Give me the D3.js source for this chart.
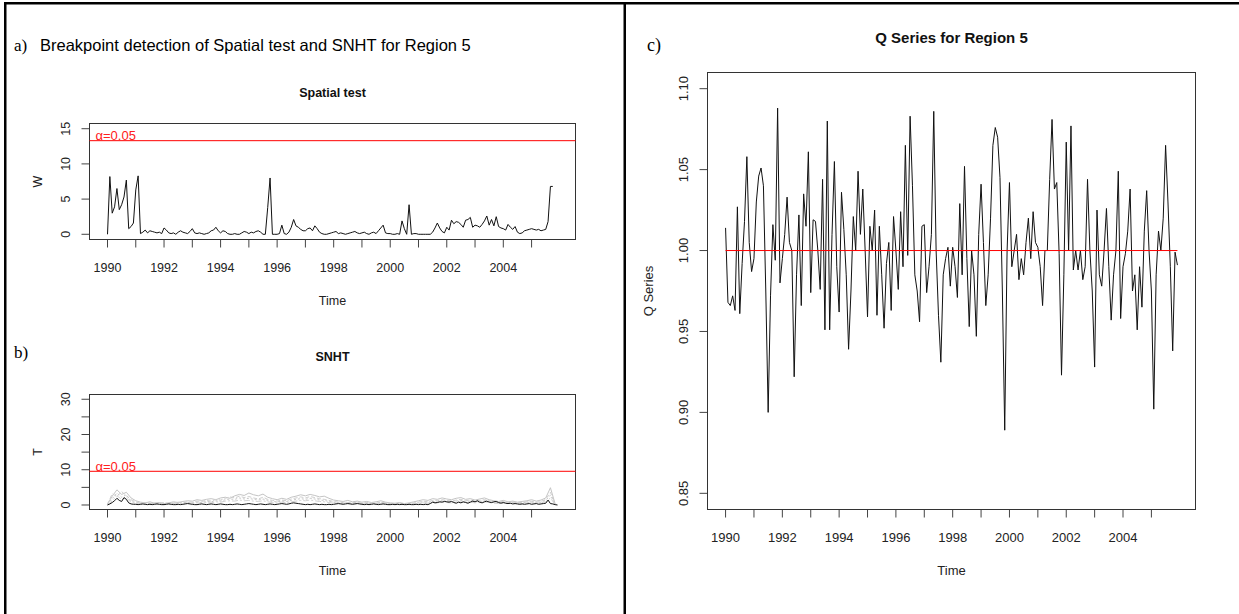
<!DOCTYPE html>
<html>
<head>
<meta charset="utf-8">
<script src="https://cdn.jsdelivr.net/npm/d3@7"></script>
<style>
  html, body { margin: 0; padding: 0; background: #fff; }
  svg { display: block; }
  text { font-family: "Liberation Sans", Arial, Helvetica, sans-serif; }
</style>
</head>
<body>
<svg id="fig" width="1239" height="614"></svg>
<script>
// ---------- Monthly series, Jan 1990 onward ----------

// Spatial test statistic W (monthly)
const w1990 = [0.0, 8.2, 3.0, 3.9, 6.5, 3.5, 4.2, 5.3, 7.7, 0.8, 1.1, 1.6];
const w1991 = [6.3, 8.3, 0.1, 0.3, 0.6, 0.2, 0.5, 0.4, 0.3, 0.2, 0.3, 0.1];
const w1992 = [0.9, 0.6, 0.2, 0.1, 0.2, 0.0, 0.3, 0.5, 0.3, 0.2, 0.1, 0.4];
const w1993 = [0.8, 0.2, 0.1, 0.2, 0.1, 0.0, 0.1, 0.2, 0.5, 0.6, 1.0, 0.5];
const w1994 = [0.2, 0.5, 0.4, 0.1, 0.0, 0.0, 0.1, 0.0, 0.0, 0.2, 0.4, 0.3];
const w1995 = [0.1, 0.3, 0.2, 0.4, 0.5, 0.3, 0.0, 0.0, 3.8, 8.0, 0.0, 0.0];
const w1996 = [0.0, 0.1, 1.3, 0.1, 0.0, 0.3, 1.0, 2.1, 1.2, 1.0, 0.7, 0.5];
const w1997 = [0.5, 0.8, 0.9, 0.5, 1.2, 0.8, 0.3, 0.1, 0.0, 0.0, 0.1, 0.2];
const w1998 = [0.3, 0.4, 0.1, 0.2, 0.1, 0.0, 0.1, 0.2, 0.3, 0.4, 0.2, 0.1];
const w1999 = [0.2, 0.3, 0.1, 0.0, 0.2, 0.3, 0.1, 0.5, 0.9, 1.3, 0.2, 0.1];
const w2000 = [0.1, 0.0, 0.0, 0.1, 0.0, 1.9, 0.8, 0.0, 4.2, 0.0, 0.1, 0.1];
const w2001 = [0.0, 0.0, 0.0, 0.0, 0.0, 0.0, 0.3, 0.9, 1.6, 0.9, 0.4, 0.2];
const w2002 = [1.0, 0.6, 2.0, 1.5, 1.8, 1.7, 1.4, 1.0, 2.0, 2.1, 2.4, 1.0];
const w2003 = [1.3, 1.2, 1.0, 1.4, 1.9, 2.6, 1.3, 2.1, 1.2, 2.5, 1.1, 0.9];
const w2004 = [0.8, 0.6, 1.4, 1.0, 0.7, 1.1, 0.3, 0.1, 0.2, 0.5, 0.6, 0.7];
const w2005 = [0.8, 0.7, 0.6, 0.7, 0.5, 0.6, 0.7, 1.8, 6.8, 6.8];
const wThreshold = 13.3;

// SNHT statistic T for the region (monthly, black line)
const s1990 = [0.0, 0.3, 0.7, 1.2, 1.9, 1.3, 1.0, 2.1, 1.6, 0.6, 0.3, 0.2];
const s1991 = [0.2, 0.1, 0.2, 0.3, 0.2, 0.1, 0.2, 0.1, 0.2, 0.3, 0.2, 0.1];
const s1992 = [0.1, 0.2, 0.3, 0.2, 0.1, 0.1, 0.2, 0.1, 0.2, 0.3, 0.4, 0.3];
const s1993 = [0.2, 0.1, 0.1, 0.2, 0.3, 0.2, 0.1, 0.2, 0.3, 0.2, 0.1, 0.2];
const s1994 = [0.3, 0.2, 0.1, 0.1, 0.2, 0.1, 0.2, 0.3, 0.2, 0.1, 0.2, 0.3];
const s1995 = [0.4, 0.3, 0.2, 0.1, 0.2, 0.3, 0.2, 0.1, 0.2, 0.3, 0.2, 0.1];
const s1996 = [0.2, 0.3, 0.4, 0.3, 0.2, 0.3, 0.5, 0.6, 0.5, 0.4, 0.3, 0.2];
const s1997 = [0.1, 0.2, 0.1, 0.2, 0.3, 0.2, 0.1, 0.2, 0.1, 0.1, 0.2, 0.1];
const s1998 = [0.2, 0.3, 0.4, 0.3, 0.2, 0.3, 0.4, 0.3, 0.2, 0.3, 0.4, 0.3];
const s1999 = [0.2, 0.1, 0.2, 0.1, 0.2, 0.3, 0.2, 0.1, 0.2, 0.3, 0.2, 0.1];
const s2000 = [0.1, 0.2, 0.1, 0.2, 0.1, 0.2, 0.1, 0.1, 0.2, 0.1, 0.1, 0.2];
const s2001 = [0.1, 0.2, 0.1, 0.2, 0.1, 0.4, 0.8, 0.6, 0.7, 0.9, 0.8, 1.0];
const s2002 = [0.9, 0.8, 1.0, 0.7, 0.5, 0.8, 0.6, 0.9, 0.7, 0.5, 0.8, 1.1];
const s2003 = [0.9, 1.2, 0.8, 0.6, 0.9, 1.1, 0.8, 0.7, 0.9, 1.0, 0.7, 0.5];
const s2004 = [0.7, 0.5, 0.4, 0.5, 0.3, 0.4, 0.3, 0.2, 0.3, 0.2, 0.3, 0.4];
const s2005 = [0.2, 0.3, 0.4, 0.2, 0.3, 0.4, 0.5, 1.4, 0.4, 0.3, 0.1, 0.0];
const sThreshold = 9.56;

// SNHT statistics of the individual stations (every second month, grey lines)
const station1 = [
  0.3, 2.5, 4.3, 3.0, 3.6, 2.0,  1.2, 0.8, 0.6, 0.9, 0.5, 0.7,
  0.4, 0.6, 0.9, 0.7, 1.0, 1.2,  1.1, 1.5, 1.3, 1.6, 1.8, 1.5,
  2.0, 2.2, 1.9, 2.6, 3.0, 2.7,  3.4, 2.9, 2.6, 3.1, 2.2, 1.8,
  1.5, 1.9, 1.6, 2.2, 2.5, 2.9,  2.6, 3.0, 2.7, 2.3, 2.5, 1.9,
  1.4, 1.2, 1.0, 1.3, 0.9, 1.1,  0.8, 1.0, 0.7, 0.9, 1.2, 0.8,
  0.6, 0.5, 0.7, 0.4, 0.6, 0.9,  1.2, 1.5, 1.3, 1.8, 1.6, 2.0,
  1.7, 1.5, 1.9, 2.1, 1.6, 1.8,  1.4, 1.7, 2.0, 1.5, 1.2, 1.0,
  1.3, 0.9, 1.1, 0.8, 1.0, 1.2,  1.5, 1.1, 1.4, 2.0, 4.9, 0.3];
const station2 = [
  0.2, 3.2, 2.4, 3.8, 2.6, 1.5,  0.9, 0.5, 0.7, 0.4, 0.6, 0.5,
  0.7, 0.4, 0.6, 0.8, 0.6, 0.9,  0.8, 1.1, 1.0, 1.3, 1.1, 1.6,
  1.4, 1.9, 2.3, 2.0, 2.5, 2.1,  2.4, 2.0, 1.7, 2.2, 1.6, 1.3,
  1.1, 1.4, 1.2, 1.7, 2.0, 2.3,  2.0, 2.4, 2.1, 1.8, 1.6, 1.3,
  1.0, 0.8, 0.9, 0.7, 0.6, 0.8,  0.5, 0.7, 0.6, 0.5, 0.8, 0.6,
  0.4, 0.3, 0.5, 0.3, 0.4, 0.6,  0.8, 1.1, 0.9, 1.3, 1.2, 1.5,
  1.3, 1.1, 1.4, 1.6, 1.2, 1.4,  1.1, 1.3, 1.5, 1.2, 0.9, 0.8,
  1.0, 0.7, 0.9, 0.6, 0.8, 0.9,  1.1, 0.8, 1.0, 1.6, 3.6, 0.2];
const station3 = [
  0.1, 1.8, 3.4, 2.2, 2.9, 1.1,  0.6, 0.4, 0.3, 0.5, 0.3, 0.4,
  0.3, 0.5, 0.4, 0.6, 0.5, 0.7,  0.6, 0.8, 0.7, 1.0, 0.9, 1.2,
  1.1, 1.5, 1.7, 1.6, 2.0, 1.7,  1.9, 1.6, 1.4, 1.7, 1.3, 1.0,
  0.9, 1.1, 1.0, 1.3, 1.6, 1.8,  1.6, 1.9, 1.7, 1.4, 1.3, 1.0,
  0.8, 0.6, 0.7, 0.5, 0.5, 0.6,  0.4, 0.5, 0.4, 0.4, 0.6, 0.5,
  0.3, 0.2, 0.4, 0.2, 0.3, 0.4,  0.6, 0.9, 0.7, 1.0, 0.9, 1.2,
  1.0, 0.9, 1.1, 1.3, 1.0, 1.1,  0.9, 1.0, 1.2, 1.0, 0.7, 0.6,
  0.8, 0.5, 0.7, 0.5, 0.6, 0.7,  0.9, 0.6, 0.8, 1.3, 2.8, 0.2];
const station4 = [
  0.0, 1.2, 2.6, 1.6, 2.0, 0.8,  0.4, 0.3, 0.2, 0.3, 0.2, 0.3,
  0.2, 0.3, 0.3, 0.4, 0.3, 0.5,  0.4, 0.6, 0.5, 0.7, 0.6, 0.9,
  0.8, 1.1, 1.2, 1.1, 1.4, 1.2,  1.3, 1.1, 1.0, 1.2, 0.9, 0.7,
  0.6, 0.8, 0.7, 0.9, 1.1, 1.3,  1.2, 1.4, 1.2, 1.0, 0.9, 0.7,
  0.5, 0.4, 0.5, 0.4, 0.3, 0.4,  0.3, 0.4, 0.3, 0.3, 0.4, 0.3,
  0.2, 0.1, 0.3, 0.1, 0.2, 0.3,  0.4, 0.6, 0.5, 0.7, 0.6, 0.9,
  0.7, 0.6, 0.8, 0.9, 0.7, 0.8,  0.6, 0.7, 0.9, 0.7, 0.5, 0.4,
  0.5, 0.4, 0.5, 0.3, 0.4, 0.5,  0.6, 0.4, 0.6, 0.9, 2.0, 0.1];

// Q series (monthly)
const q1990 = [1.014, 0.968, 0.966, 0.972, 0.963, 1.027, 0.961, 0.992, 1.018, 1.058, 1.005, 0.987];
const q1991 = [0.995, 1.030, 1.046, 1.051, 1.040, 0.975, 0.900, 0.972, 1.016, 0.994, 1.088, 0.980];
const q1992 = [0.995, 1.010, 1.033, 1.005, 1.000, 0.922, 0.985, 1.022, 0.966, 1.035, 1.015, 1.061];
const q1993 = [0.974, 1.019, 1.018, 1.000, 0.976, 1.044, 0.951, 1.080, 0.951, 1.010, 1.055, 0.990];
const q1994 = [0.962, 1.036, 1.013, 0.985, 0.939, 0.975, 1.021, 1.000, 1.049, 1.010, 1.038, 1.000];
const q1995 = [0.959, 1.015, 1.000, 1.025, 0.960, 1.015, 0.985, 0.952, 0.992, 1.005, 0.963, 1.021];
const q1996 = [1.000, 0.976, 1.024, 0.990, 1.065, 0.997, 1.083, 1.040, 0.985, 0.975, 0.956, 1.015];
const q1997 = [1.016, 0.974, 0.990, 1.010, 1.086, 1.000, 0.960, 0.931, 0.985, 0.995, 1.002, 0.978];
const q1998 = [1.002, 0.990, 0.971, 1.029, 0.985, 1.052, 0.995, 0.953, 1.000, 0.985, 0.947, 1.010];
const q1999 = [1.041, 1.005, 0.966, 0.985, 1.020, 1.065, 1.076, 1.070, 1.045, 0.975, 0.889, 1.000];
const q2000 = [1.042, 0.990, 1.000, 1.010, 0.982, 0.995, 0.985, 1.005, 1.020, 0.995, 1.024, 1.005];
const q2001 = [1.002, 0.990, 0.966, 1.000, 1.000, 1.044, 1.081, 1.038, 1.042, 0.998, 0.923, 0.985];
const q2002 = [1.067, 1.000, 1.077, 0.988, 1.000, 0.988, 1.000, 0.982, 0.990, 1.044, 1.000, 0.975];
const q2003 = [0.928, 1.025, 0.985, 0.978, 1.000, 1.026, 0.990, 0.957, 0.985, 1.000, 1.049, 0.958];
const q2004 = [0.990, 0.998, 1.012, 1.038, 0.975, 0.985, 0.951, 0.990, 0.965, 1.012, 1.037, 1.000];
const q2005 = [0.975, 0.902, 0.985, 1.012, 1.000, 1.020, 1.065, 1.030, 0.990, 0.938, 0.999, 0.991];
const qReference = 1.0;

// Axis ticks
const xTickYears = d3.range(1990, 2006);
const wTicks = [0, 5, 10, 15];
const tTicks = [0, 5, 10, 15, 20, 25, 30];
const tTickLabels = [0, 10, 20, 30];
const qTicks = [0.85, 0.90, 0.95, 1.00, 1.05, 1.10];

// ---------- Assemble ----------
const W = [].concat(w1990, w1991, w1992, w1993, w1994, w1995, w1996, w1997,
                    w1998, w1999, w2000, w2001, w2002, w2003, w2004, w2005);
const S = [].concat(s1990, s1991, s1992, s1993, s1994, s1995, s1996, s1997,
                    s1998, s1999, s2000, s2001, s2002, s2003, s2004, s2005);
const Q = [].concat(q1990, q1991, q1992, q1993, q1994, q1995, q1996, q1997,
                    q1998, q1999, q2000, q2001, q2002, q2003, q2004, q2005);
const stations = [station1, station2, station3, station4];

const START = 1990;
const tEnd = START + (Q.length - 1) / 12;
const tPad = (tEnd - START) * 0.04;      // R-style 4% axis extension

const svg = d3.select("#fig");
const INK = "#222";

// page frame
svg.append("rect").attr("x", 4).attr("y", 2).attr("width", 1235).attr("height", 2.5).attr("fill", "#000");
svg.append("rect").attr("x", 4).attr("y", 2).attr("width", 2.5).attr("height", 612).attr("fill", "#000");
svg.append("rect").attr("x", 623.5).attr("y", 2).attr("width", 2.5).attr("height", 612).attr("fill", "#000");

function drawPanel(o) {
  const g = svg.append("g");
  const x = d3.scaleLinear().domain([START - tPad, tEnd + tPad]).range([o.x0, o.x1]);
  const y = d3.scaleLinear().domain(o.yDomain).range([o.y1, o.y0]);

  // bottom axis: ticks every year, labels every second year
  g.append("g")
    .attr("transform", `translate(0,${o.y1})`)
    .call(d3.axisBottom(x).tickValues(xTickYears).tickSize(8).offset(0)
      .tickFormat(d => d % 2 === 0 ? d : ""))
    .call(s => {
      s.attr("font-size", null).attr("font-family", null);
      s.select(".domain").remove();
      s.selectAll("line").attr("stroke", "#444");
      s.selectAll("text").attr("y", 32).attr("dy", 0)
        .attr("fill", INK).style("font-size", o.fs + "px");
    });

  // left axis with labels parallel to the axis
  g.append("g")
    .attr("transform", `translate(${o.x0},0)`)
    .call(d3.axisLeft(y).tickValues(o.yTicks).tickSize(8).offset(0)
      .tickFormat(o.yFormat))
    .call(s => {
      s.attr("font-size", null).attr("font-family", null);
      s.select(".domain").remove();
      s.selectAll("line").attr("stroke", "#444");
      s.selectAll("text")
        .attr("transform", "rotate(-90)")
        .attr("x", 0).attr("y", -o.yLabOff).attr("dy", 0)
        .attr("text-anchor", "middle")
        .attr("fill", INK).style("font-size", o.fs + "px");
    });

  // plot frame
  g.append("rect")
    .attr("x", o.x0).attr("y", o.y0)
    .attr("width", o.x1 - o.x0).attr("height", o.y1 - o.y0)
    .attr("fill", "none").attr("stroke", "#333").attr("stroke-width", 1);

  // titles
  const cx = (o.x0 + o.x1) / 2;
  g.append("text").attr("x", cx).attr("y", o.titleY).attr("text-anchor", "middle")
    .attr("font-weight", "bold").style("font-size", o.titleFs + "px").attr("fill", "#111")
    .text(o.title);
  g.append("text").attr("x", cx).attr("y", o.y1 + 65).attr("text-anchor", "middle")
    .style("font-size", o.fs + "px").attr("fill", INK).text("Time");
  g.append("text")
    .attr("transform", `translate(${o.ylabX},${(o.y0 + o.y1) / 2}) rotate(-90)`)
    .attr("text-anchor", "middle").style("font-size", o.fs + "px").attr("fill", INK)
    .text(o.ylab);

  const plot = g.append("g");
  return { x, y, plot };
}

function thresholdLine(p, o, value) {
  p.plot.append("line")
    .attr("x1", o.x0).attr("x2", o.x1)
    .attr("y1", p.y(value)).attr("y2", p.y(value))
    .attr("stroke", "#ff0000").attr("stroke-width", 1);
  p.plot.append("text")
    .attr("x", o.x0 + 6).attr("y", p.y(value) - 0.5)
    .style("font-size", "13px").attr("fill", "#ff2020")
    .text("\u03b1=0.05");
}

// ---------- a) Spatial test ----------
const optA = {
  x0: 89.5, x1: 575.5, y0: 123.5, y1: 239.5,
  yDomain: [-0.74, 15.74], yTicks: wTicks, yFormat: d3.format("d"),
  yLabOff: 20, fs: 12.5, titleFs: 12.5, title: "Spatial test", titleY: 97,
  ylab: "W", ylabX: 42
};
const pA = drawPanel(optA);
thresholdLine(pA, optA, wThreshold);
pA.plot.append("path").datum(W)
  .attr("fill", "none").attr("stroke", "#111").attr("stroke-width", 1)
  .attr("d", d3.line().x((d, i) => pA.x(START + i / 12)).y(d => pA.y(d)));

// ---------- b) SNHT ----------
const optB = {
  x0: 89.5, x1: 575.5, y0: 394.5, y1: 509.5,
  yDomain: [-1.28, 31.35], yTicks: tTicks,
  yFormat: d => tTickLabels.includes(d) ? d : "",
  yLabOff: 20, fs: 12.5, titleFs: 12.5, title: "SNHT", titleY: 361,
  ylab: "T", ylabX: 42
};
const pB = drawPanel(optB);
thresholdLine(pB, optB, sThreshold);
const greyStyles = [
  { c: "#c4c4c4", dash: null },
  { c: "#cfcfcf", dash: "4,2" },
  { c: "#c8c8c8", dash: "2,2" },
  { c: "#d2d2d2", dash: "6,2,2,2" }
];
stations.forEach((st, k) => {
  pB.plot.append("path").datum(st)
    .attr("fill", "none").attr("stroke", greyStyles[k].c).attr("stroke-width", 1)
    .attr("stroke-dasharray", greyStyles[k].dash)
    .attr("d", d3.line().x((d, i) => pB.x(START + i * 2 / 12)).y(d => pB.y(d)));
});
pB.plot.append("path").datum(S)
  .attr("fill", "none").attr("stroke", "#111").attr("stroke-width", 1)
  .attr("d", d3.line().x((d, i) => pB.x(START + i / 12)).y(d => pB.y(d)));

// ---------- c) Q series ----------
const optC = {
  x0: 707.5, x1: 1195.5, y0: 72.5, y1: 509.5,
  yDomain: [0.84, 1.11], yTicks: qTicks, yFormat: d3.format(".2f"),
  yLabOff: 19.5, fs: 13, titleFs: 15, title: "Q Series for Region 5", titleY: 43,
  ylab: "Q Series", ylabX: 653
};
const pC = drawPanel(optC);
pC.plot.append("path").datum(Q)
  .attr("fill", "none").attr("stroke", "#111").attr("stroke-width", 1)
  .attr("d", d3.line().x((d, i) => pC.x(START + i / 12)).y(d => pC.y(d)));
pC.plot.append("line")
  .attr("x1", pC.x(START)).attr("x2", pC.x(tEnd))
  .attr("y1", pC.y(qReference)).attr("y2", pC.y(qReference))
  .attr("stroke", "#ff0000").attr("stroke-width", 1);

// ---------- panel letters and heading ----------
const serif = '"Liberation Serif", "Times New Roman", Times, serif';
svg.append("text").attr("x", 14).attr("y", 51).style("font-family", serif)
  .style("font-size", "17px").attr("fill", "#000").text("a)");
svg.append("text").attr("x", 40).attr("y", 51).style("font-size", "16.5px")
  .attr("fill", "#000").text("Breakpoint detection of Spatial test and SNHT for Region 5");
svg.append("text").attr("x", 14).attr("y", 358).style("font-family", serif)
  .style("font-size", "17px").attr("fill", "#000").text("b)");
svg.append("text").attr("x", 647).attr("y", 51).style("font-family", serif)
  .style("font-size", "18px").attr("fill", "#000").text("c)");
</script>
</body>
</html>
